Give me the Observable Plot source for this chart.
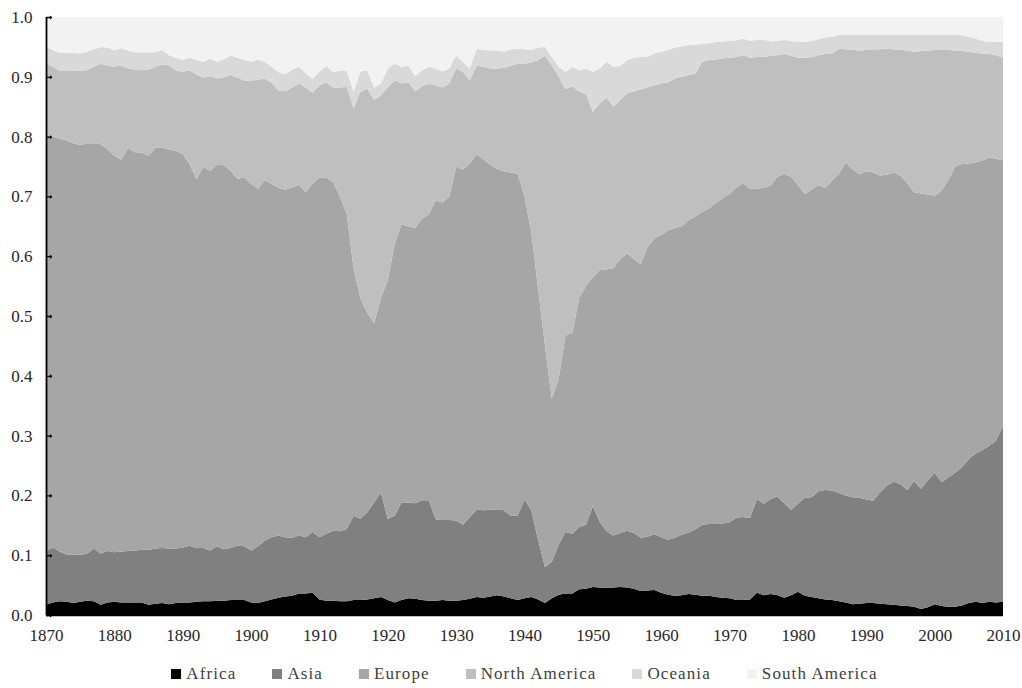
<!DOCTYPE html>
<html><head><meta charset="utf-8">
<script src="https://cdn.jsdelivr.net/npm/d3@7"></script>
<script src="https://cdn.jsdelivr.net/npm/@observablehq/plot@0.6"></script>
<style>
html,body{margin:0;padding:0;background:#fff;}
#chart svg{display:block;}
.legend{display:flex;justify-content:center;align-items:center;gap:36px;width:957px;margin-left:46px;margin-top:5px;height:38px;font-family:"Liberation Serif","Times New Roman","DejaVu Serif",serif;font-size:17px;letter-spacing:1.1px;color:#404040;}
.item{display:flex;align-items:center;white-space:nowrap;}
.sw{width:10px;height:10px;margin-right:5px;display:inline-block;}
</style></head><body>
<div id="chart"></div>
<div class="legend" id="legend"></div>
<script>
const regions = ["Africa", "Asia", "Europe", "North America", "Oceania", "South America"];
const colors = ["#000000", "#808080", "#a6a6a6", "#bfbfbf", "#d9d9d9", "#f2f2f2"];
const years = d3.range(1870, 2011);
const xTicks = [1870, 1880, 1890, 1900, 1910, 1920, 1930, 1940, 1950, 1960, 1970, 1980, 1990, 2000, 2010];
const yTicks = [0, 0.1, 0.2, 0.3, 0.4, 0.5, 0.6, 0.7, 0.8, 0.9, 1.0];
const FONT = '"Liberation Serif", "Times New Roman", "DejaVu Serif", serif';

const africa = [
  .017,.021,.023,.022,.020,.022,.024,.023,.017,.021,
  .022,.021,.021,.021,.021,.017,.019,.020,.018,.020,
  .021,.021,.022,.023,.023,.024,.024,.025,.025,.025,
  .021,.020,.023,.026,.029,.031,.032,.036,.036,.037,
  .026,.024,.024,.023,.023,.025,.025,.026,.028,.030,
  .025,.021,.025,.028,.027,.025,.024,.024,.025,.024,
  .024,.025,.027,.030,.029,.031,.033,.031,.028,.025,
  .028,.030,.026,.020,.028,.034,.036,.036,.043,.044,
  .047,.046,.045,.046,.047,.046,.044,.040,.041,.042,
  .037,.034,.032,.033,.035,.034,.032,.032,.030,.029,
  .028,.025,.025,.026,.037,.033,.035,.033,.029,.033,
  .039,.032,.030,.028,.026,.025,.023,.021,.018,.019,
  .020,.020,.019,.018,.017,.016,.015,.014,.010,.013,
  .018,.015,.014,.014,.016,.020,.022,.020,.022,.021,
  .022];
const asia = [
  .090,.092,.083,.079,.081,.079,.078,.088,.086,.086,
  .083,.085,.086,.087,.088,.092,.092,.092,.093,.091,
  .092,.095,.090,.089,.085,.091,.086,.087,.091,.090,
  .087,.095,.101,.104,.104,.099,.097,.097,.094,.102,
  .104,.112,.117,.117,.121,.141,.136,.146,.160,.175,
  .136,.145,.163,.160,.160,.167,.168,.136,.134,.135,
  .134,.126,.137,.146,.146,.145,.144,.144,.138,.141,
  .165,.145,.099,.060,.061,.084,.103,.100,.104,.107,
  .135,.110,.095,.087,.090,.095,.093,.089,.090,.093,
  .093,.092,.097,.101,.103,.109,.119,.120,.122,.124,
  .127,.138,.139,.136,.157,.153,.159,.165,.158,.143,
  .147,.164,.167,.179,.183,.183,.181,.179,.179,.177,
  .173,.171,.186,.198,.206,.203,.194,.210,.201,.212,
  .220,.207,.216,.224,.231,.241,.248,.256,.261,.271,
  .294];
const europe = [
  .695,.687,.691,.693,.688,.685,.687,.678,.684,.672,
  .663,.655,.674,.666,.664,.659,.670,.670,.667,.665,
  .658,.638,.617,.637,.635,.638,.642,.631,.613,.617,
  .613,.598,.603,.591,.581,.581,.586,.586,.577,.583,
  .601,.595,.583,.560,.526,.414,.369,.333,.300,.325,
  .399,.454,.465,.462,.460,.470,.478,.533,.531,.541,
  .592,.594,.591,.595,.587,.577,.569,.567,.574,.572,
  .507,.465,.420,.370,.273,.277,.329,.336,.383,.399,
  .383,.421,.438,.447,.458,.464,.458,.458,.484,.495,
  .506,.517,.518,.516,.522,.524,.523,.528,.537,.544,
  .549,.552,.558,.551,.519,.529,.524,.535,.551,.557,
  .533,.508,.514,.512,.505,.518,.534,.557,.548,.541,
  .549,.549,.530,.520,.517,.516,.513,.483,.494,.478,
  .463,.488,.497,.512,.507,.494,.487,.484,.482,.471,
  .444];
const northAmerica = [
  .121,.117,.113,.117,.121,.124,.122,.128,.135,.140,
  .149,.158,.133,.138,.138,.144,.136,.139,.141,.135,
  .137,.157,.175,.150,.158,.144,.147,.160,.170,.162,
  .173,.182,.170,.169,.163,.165,.167,.170,.175,.151,
  .155,.159,.158,.182,.213,.267,.345,.375,.373,.339,
  .322,.274,.236,.241,.229,.222,.218,.193,.192,.189,
  .164,.163,.139,.148,.155,.161,.168,.173,.179,.184,
  .222,.284,.383,.485,.557,.505,.411,.412,.345,.321,
  .276,.278,.287,.270,.266,.267,.281,.292,.267,.256,
  .253,.248,.250,.250,.243,.238,.251,.248,.240,.234,
  .228,.218,.214,.219,.220,.218,.217,.203,.200,.202,
  .213,.228,.222,.217,.224,.213,.209,.189,.200,.207,
  .203,.206,.211,.211,.206,.210,.222,.235,.238,.241,
  .244,.235,.218,.194,.189,.187,.183,.179,.173,.173,
  .172];
const oceania = [
  .027,.028,.030,.029,.030,.029,.031,.029,.028,.030,
  .027,.029,.030,.029,.030,.029,.024,.024,.017,.021,
  .020,.021,.024,.026,.029,.028,.030,.033,.033,.034,
  .031,.034,.028,.027,.031,.028,.030,.028,.024,.024,
  .022,.028,.026,.028,.028,.028,.034,.031,.021,.020,
  .032,.028,.028,.028,.025,.027,.029,.028,.027,.025,
  .022,.017,.020,.028,.028,.030,.030,.027,.027,.025,
  .024,.021,.021,.015,.014,.017,.029,.033,.036,.043,
  .067,.059,.060,.067,.057,.056,.056,.054,.052,.053,
  .053,.054,.052,.051,.050,.049,.030,.028,.029,.028,
  .028,.028,.028,.028,.029,.029,.024,.024,.024,.025,
  .026,.026,.027,.027,.028,.028,.023,.024,.025,.026,
  .025,.024,.024,.023,.024,.025,.026,.028,.027,.026,
  .025,.025,.025,.026,.027,.025,.024,.021,.020,.022,
  .026];
const southAmerica = [
  .050,.055,.060,.060,.060,.061,.058,.054,.050,.051,
  .056,.052,.056,.059,.059,.059,.059,.055,.064,.068,
  .072,.068,.072,.075,.070,.075,.071,.064,.068,.072,
  .075,.071,.075,.083,.092,.096,.088,.083,.094,.103,
  .092,.082,.092,.090,.089,.125,.091,.089,.118,.111,
  .086,.078,.083,.081,.099,.089,.083,.086,.091,.086,
  .064,.075,.086,.053,.055,.056,.056,.058,.054,.053,
  .054,.055,.051,.050,.067,.083,.092,.083,.089,.086,
  .092,.086,.075,.083,.082,.072,.068,.067,.066,.061,
  .058,.055,.051,.049,.047,.046,.045,.044,.042,.041,
  .040,.039,.036,.040,.038,.038,.041,.040,.038,.040,
  .042,.042,.040,.037,.034,.033,.030,.030,.030,.030,
  .030,.030,.030,.030,.030,.030,.030,.030,.030,.030,
  .030,.030,.030,.030,.030,.033,.036,.040,.042,.042,
  .042];

const seriesValues = [africa, asia, europe, northAmerica, oceania, southAmerica];
const data = [];
regions.forEach((r, i) => years.forEach((yr, j) => data.push({year: yr, region: r, share: seriesValues[i][j]})));

const chart = Plot.plot({
  width: 1022, height: 650,
  marginTop: 17, marginBottom: 35, marginLeft: 46, marginRight: 19,
  style: {fontFamily: FONT, fontSize: "17px", color: "#262626", background: "#fff"},
  x: {domain: [1870, 2010]},
  y: {domain: [0, 1]},
  color: {domain: regions, range: colors},
  marks: [
    Plot.areaY(data, {x: "year", y: "share", z: "region", fill: "region", order: regions, curve: "linear"}),
    Plot.axisX({ticks: xTicks, tickSize: 0, tickPadding: 13, label: null, tickFormat: d => String(d), fontFamily: FONT, fontSize: 17}),
    Plot.axisY({ticks: yTicks, tickSize: 0, tickPadding: 14, label: null, tickFormat: d => d.toFixed(1), fontFamily: FONT, fontSize: 17}),
    Plot.vector(yTicks, {x: () => 1870, y: d => d, rotate: 90, length: 5, anchor: "start", stroke: "#000", strokeWidth: 1.3}),
    Plot.ruleX([1870], {stroke: "#000", strokeWidth: 1.8}),
    Plot.ruleY([0], {stroke: "#000", strokeWidth: 1.5})
  ]
});
document.getElementById("chart").append(chart);

const legend = document.getElementById("legend");
regions.forEach((r, i) => {
  const item = document.createElement("div");
  item.className = "item";
  const sw = document.createElement("span");
  sw.className = "sw";
  sw.style.background = colors[i];
  const label = document.createElement("span");
  label.textContent = r;
  item.append(sw, label);
  legend.append(item);
});
</script>
</body></html>
